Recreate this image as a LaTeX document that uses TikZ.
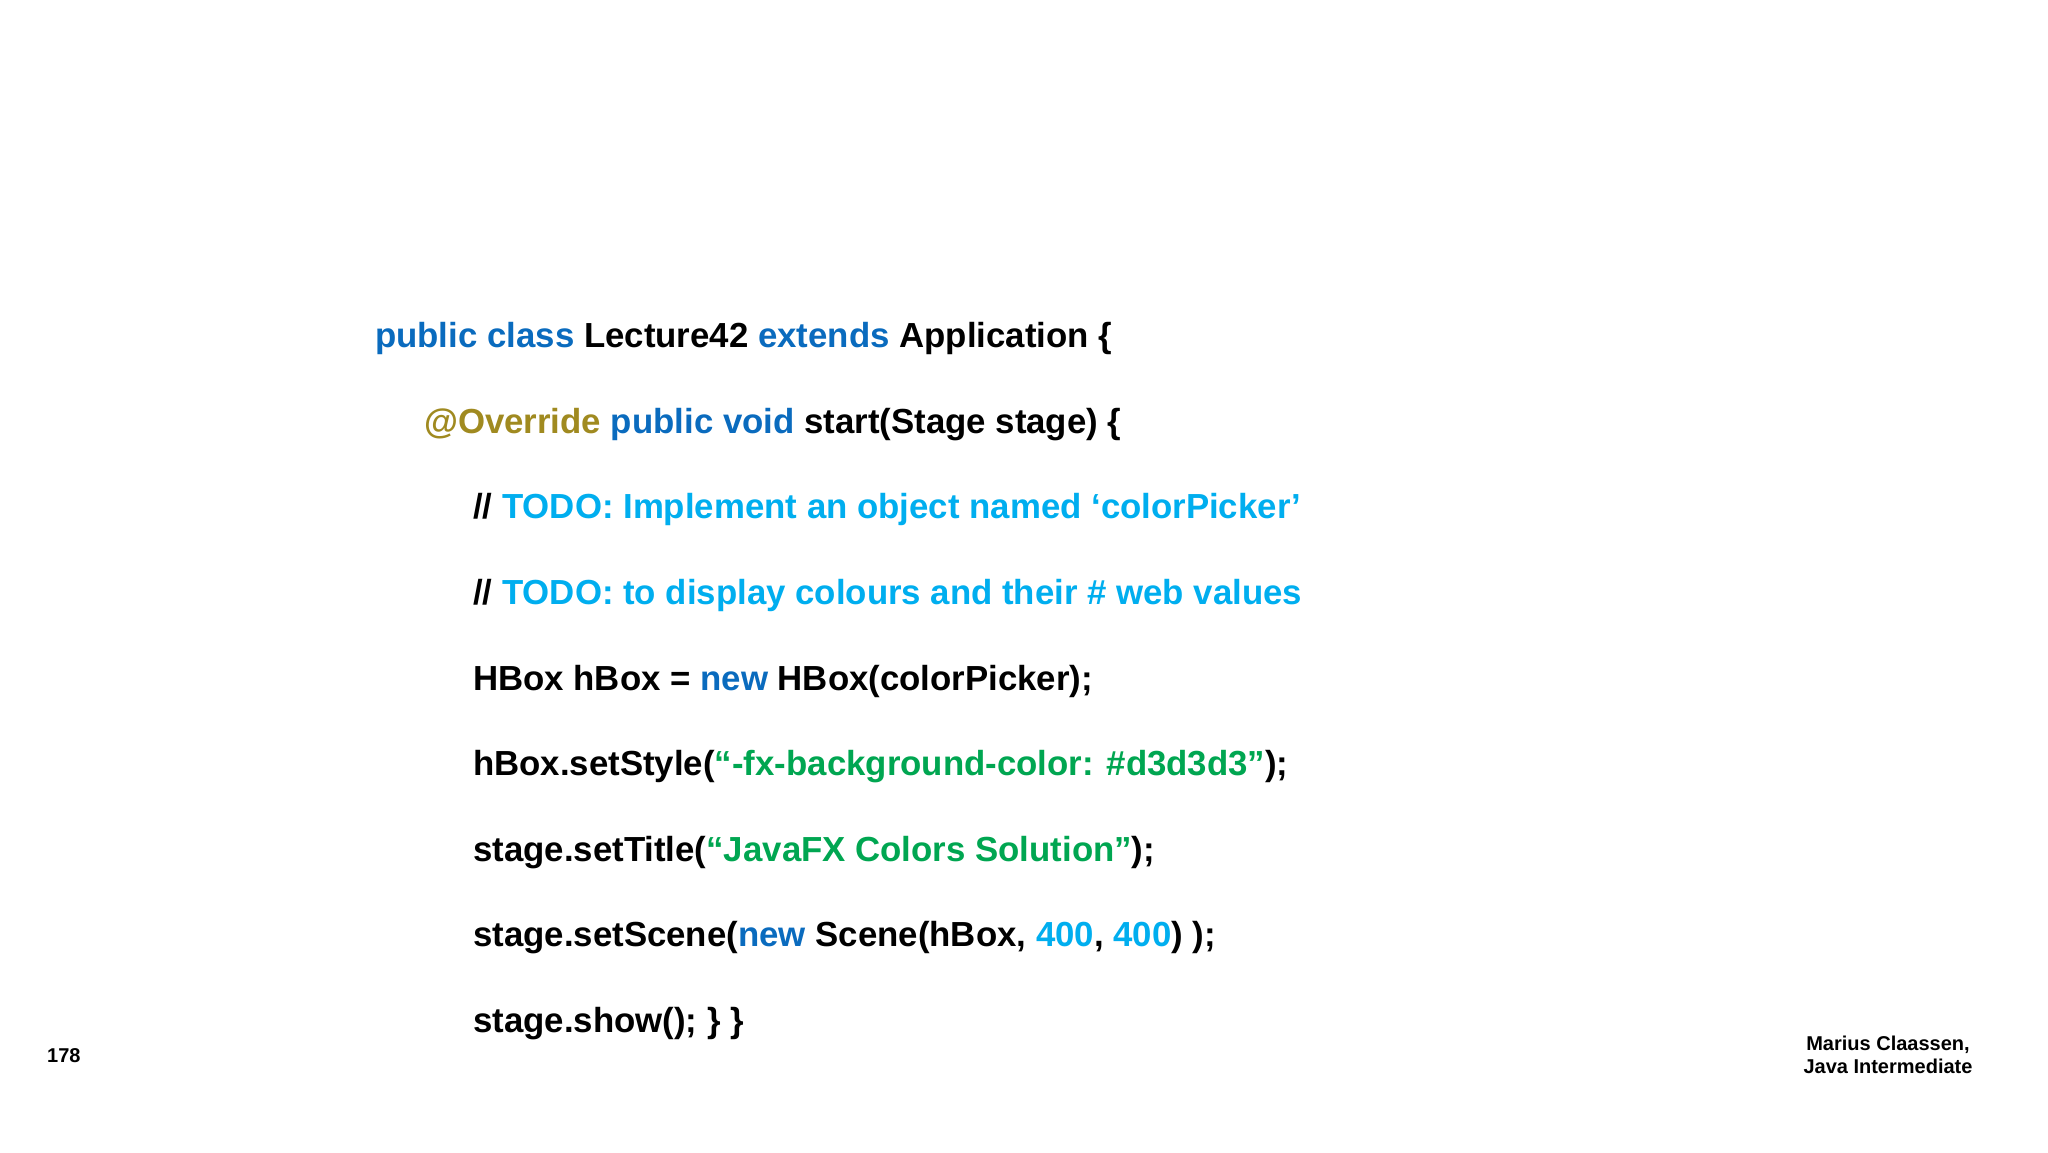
\documentclass[tikz,border=0pt]{standalone}
\usepackage{fontspec}
\setmainfont{Liberation Sans}
\definecolor{kw}{HTML}{0A6BBE}
\definecolor{lb}{HTML}{00AEEF}
\definecolor{gr}{HTML}{00A651}
\definecolor{ol}{HTML}{A08A20}
\tikzset{
  codeline/.style={anchor=base west, inner sep=0pt, font=\fontsize{34.8}{42}\selectfont\bfseries},
  foot/.style={inner sep=0pt, font=\fontsize{20}{23}\selectfont\bfseries},
}
\begin{document}
\begin{tikzpicture}[x=1pt,y=-1pt]
\fill[white] (0,0) rectangle (2048,1152);
\useasboundingbox (0,0) rectangle (2048,1152);
\node[codeline] (l1) at (375,347) {\textcolor{kw}{public class} Lecture42 \textcolor{kw}{extends} Application \{};
\node[codeline] (l2) at (424,433) {\textcolor{ol}{@Override} \textcolor{kw}{public void} start(Stage stage) \{};
\node[codeline] (l3) at (473,518) {// \textcolor{lb}{TODO: Implement an object named ‘colorPicker’}};
\node[codeline] (l4) at (473,604) {// \textcolor{lb}{TODO: to display colours and their \# web values}};
\node[codeline] (l5) at (473,690) {HBox hBox = \textcolor{kw}{new} HBox(colorPicker);};
\node[codeline] (l6) at (473,775) {hBox.setStyle(\textcolor{gr}{“-fx-background-color: \#d3d3d3”});};
\node[codeline] (l7) at (473,861) {stage.setTitle(\textcolor{gr}{“JavaFX Colors Solution”});};
\node[codeline] (l8) at (473,946) {stage.setScene(\textcolor{kw}{new} Scene(hBox, \textcolor{lb}{400}, \textcolor{lb}{400}) );};
\node[codeline] (l9) at (473,1032) {stage.show(); \} \}};
\node[foot, anchor=base west] (pg) at (47,1062) {178};
\node[foot, anchor=base, align=center] (au) at (1888,1073) {Marius Claassen,\\Java Intermediate};
\end{tikzpicture}
\end{document}
